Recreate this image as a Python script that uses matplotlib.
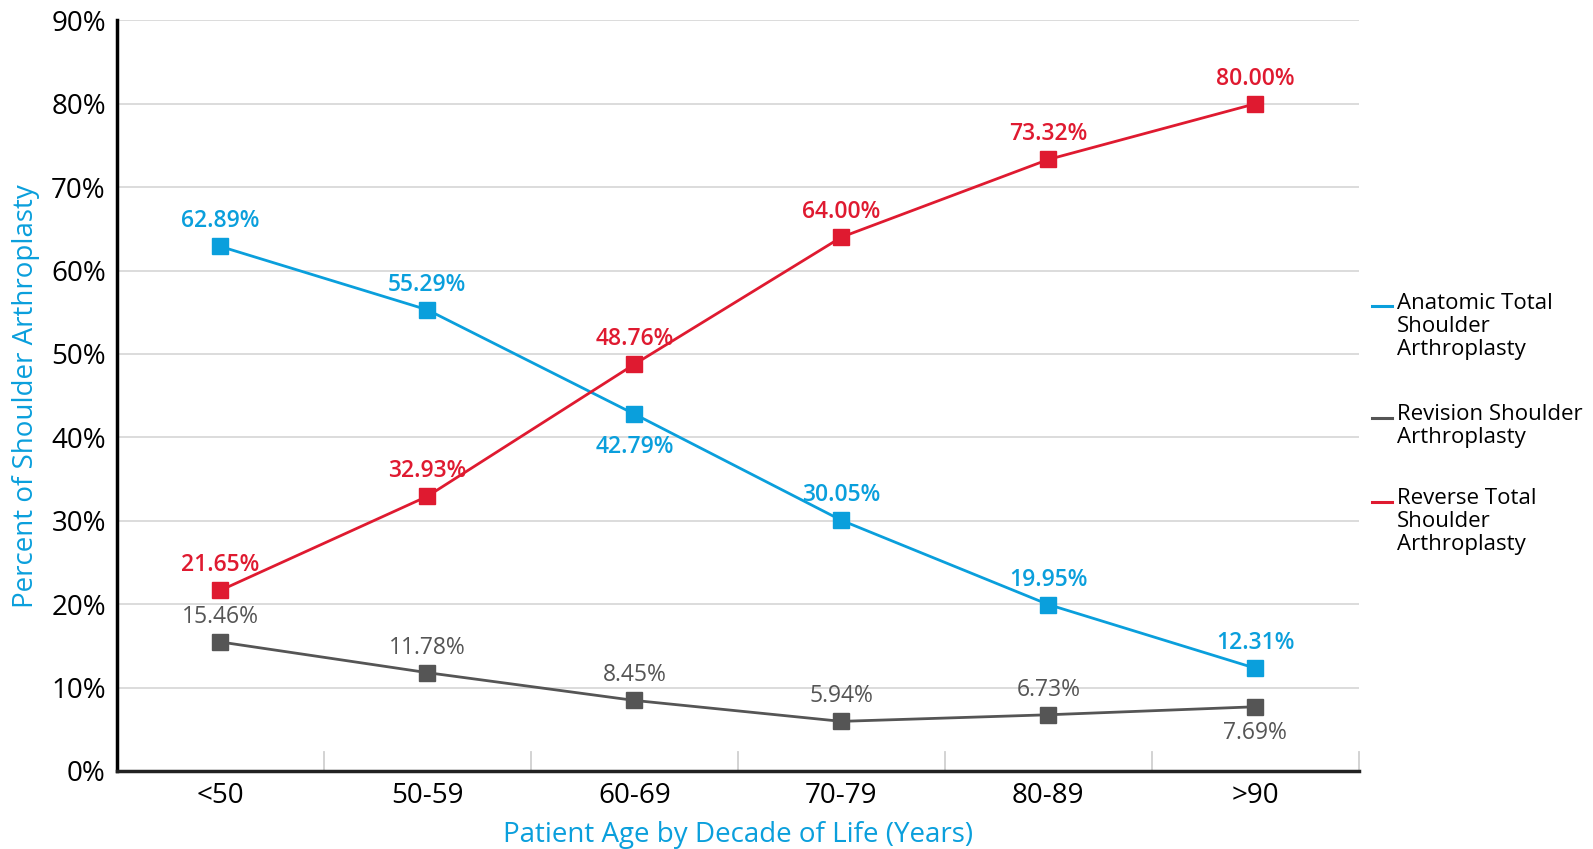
import matplotlib.pyplot as plt
from matplotlib.lines import Line2D

# Доля видов эндопротезирования плеча по возрастным группам
age_groups = ["<50", "50-59", "60-69", "70-79", "80-89", ">90"]
anatomic = [62.89, 55.29, 42.79, 30.05, 19.95, 12.31]
revision = [15.46, 11.78, 8.45, 5.94, 6.73, 7.69]
reverse = [21.65, 32.93, 48.76, 64.00, 73.32, 80.00]

series_names = ["Anatomic Total\nShoulder\nArthroplasty",
                "Revision Shoulder\nArthroplasty",
                "Reverse Total\nShoulder\nArthroplasty"]

BLUE = "#0a9fdc"
GRAY = "#555555"
RED = "#df1a30"

plt.rcParams['font.family'] = ['Open Sans', 'DejaVu Sans']


def main():
    fig = plt.figure(figsize=(15.93, 8.49), dpi=100)
    ax = fig.add_axes([0.0734, 0.092, 0.7796, 0.884])

    x = list(range(len(age_groups)))
    series = [(anatomic, BLUE), (revision, GRAY), (reverse, RED)]
    # подписи под точкой, а не над ней
    below = {(0, 2): -24, (1, 5): -19}

    for k, (vals, col) in enumerate(series):
        ax.plot(x, vals, color=col, lw=2.0, marker='s', markersize=12,
                zorder=3, solid_joinstyle='round')
        for i, v in enumerate(vals):
            dy = below.get((k, i), 18)
            ax.annotate(f"{v:.2f}%", (i, v), xytext=(0, dy), textcoords='offset points',
                        ha='center', va='center', color=col, fontsize=16.5,
                        fontweight='semibold' if col != GRAY else 'normal')

    ax.set_xlim(-0.5, len(age_groups) - 0.5)
    ax.set_ylim(0, 90)
    ax.set_yticks(range(0, 91, 10))
    ax.set_yticklabels([f"{t}%" for t in range(0, 91, 10)], fontsize=20)
    ax.set_xticks(x)
    ax.set_xticklabels(age_groups, fontsize=20)
    ax.tick_params(axis='both', length=0, pad=8)
    ax.grid(axis='y', color='#d9d9d9', lw=1.3, zorder=0)

    # короткие вертикальные засечки между группами
    for b in [i + 0.5 for i in x]:
        ax.plot([b, b], [0, 2.3], color='#d0d0d0', lw=1.3, zorder=1, clip_on=False)

    for s in ['top', 'right']:
        ax.spines[s].set_visible(False)
    ax.spines['left'].set_linewidth(2.5)
    ax.spines['bottom'].set_linewidth(2.5)
    ax.spines['bottom'].set_color('#222222')

    ax.set_ylabel("Percent of Shoulder Arthroplasty", color=BLUE, fontsize=20, labelpad=8)
    ax.set_xlabel("Patient Age by Decade of Life (Years)", color=BLUE, fontsize=20, labelpad=8)

    # легенда справа
    tops = [0.655, 0.524, 0.425]
    for (vals, col), name, ytop in zip(series, series_names, tops):
        fig.add_artist(Line2D([0.861, 0.874], [ytop - 0.016, ytop - 0.016], color=col, lw=2.2))
        fig.text(0.877, ytop, name, color='black', fontsize=16, va='top', ha='left',
                 linespacing=1.12)

    fig.savefig("out.png", dpi=100)


if __name__ == "__main__":
    main()
